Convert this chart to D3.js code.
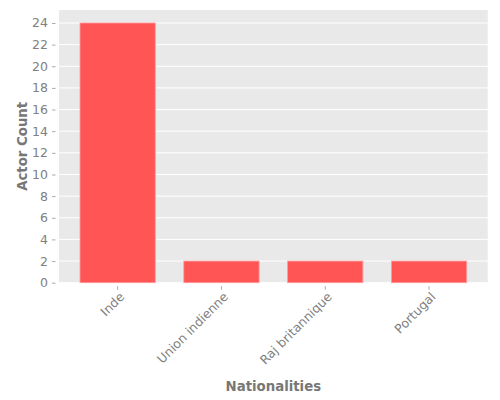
<!DOCTYPE html>
<html>
<head>
<meta charset="utf-8">
<script src="https://cdn.jsdelivr.net/npm/d3@7"></script>
<style>
  html, body { margin: 0; padding: 0; background: #fff; }
  svg { display: block; font-family: "DejaVu Sans", sans-serif; }
</style>
</head>
<body>
<svg id="chart" width="500" height="400"></svg>
<script>
const categories = ["Inde", "Union indienne", "Raj britannique", "Portugal"];
const actorCounts = [24, 2, 2, 2];
const yTicks = [0, 2, 4, 6, 8, 10, 12, 14, 16, 18, 20, 22, 24];
const xLabel = "Nationalities";
const yLabel = "Actor Count";

const plot = { left: 59, right: 487.7, top: 10, bottom: 282.7 };
const svg = d3.select("#chart");

const x = d3.scaleBand()
  .domain(categories)
  .range([plot.left, plot.right])
  .paddingInner(0.275)
  .paddingOuter(0.2025);

const y = d3.scaleLinear()
  .domain([0, 24 * 1.05])
  .range([plot.bottom, plot.top]);

// background
svg.append("rect")
  .attr("x", plot.left).attr("y", plot.top)
  .attr("width", plot.right - plot.left)
  .attr("height", plot.bottom - plot.top)
  .attr("fill", "#E9E9E9");

// gridlines
svg.append("g").selectAll("line").data(yTicks).join("line")
  .attr("x1", plot.left).attr("x2", plot.right)
  .attr("y1", d => y(d)).attr("y2", d => y(d))
  .attr("stroke", "#fff").attr("stroke-width", 1);

// bars
svg.append("g").selectAll("rect").data(categories).join("rect")
  .attr("x", d => x(d))
  .attr("y", (d, i) => y(actorCounts[i]))
  .attr("width", x.bandwidth())
  .attr("height", (d, i) => y(0) - y(actorCounts[i]))
  .attr("fill", "#FF5555")
  .attr("stroke", "#FF9C9C")
  .attr("stroke-width", 0.8);

// y axis
const yAxis = d3.axisLeft(y).tickValues(yTicks).tickSize(3.5).tickPadding(4);
const gy = svg.append("g").attr("transform", `translate(${plot.left - 3.5},0)`).call(yAxis);
gy.select(".domain").remove();
gy.selectAll(".tick line").attr("stroke", "#aaa");
gy.selectAll(".tick text").attr("fill", "#808080").attr("font-size", 12.5)
  .attr("font-family", "DejaVu Sans");

// x axis
const xAxis = d3.axisBottom(x).tickSize(3.5).tickPadding(4);
const gx = svg.append("g").attr("transform", `translate(0,${plot.bottom + 3.5})`).call(xAxis);
gx.select(".domain").remove();
gx.selectAll(".tick line").attr("stroke", "#aaa");
gx.selectAll(".tick text")
  .attr("fill", "#808080").attr("font-size", 12.5)
  .attr("font-family", "DejaVu Sans")
  .attr("text-anchor", "end")
  .attr("y", 0).attr("x", 0).attr("dy", 0)
  .attr("transform", "translate(0,4) rotate(-45) translate(0,10.5)");

// axis labels
svg.append("text")
  .attr("x", (plot.left + plot.right) / 2)
  .attr("y", 391)
  .attr("text-anchor", "middle")
  .attr("font-size", 13.3).attr("font-weight", "bold")
  .attr("fill", "#777")
  .text(xLabel);

svg.append("text")
  .attr("transform", `translate(27,${(plot.top + plot.bottom) / 2}) rotate(-90)`)
  .attr("text-anchor", "middle")
  .attr("font-size", 13.3).attr("font-weight", "bold")
  .attr("fill", "#777")
  .text(yLabel);
</script>
</body>
</html>
